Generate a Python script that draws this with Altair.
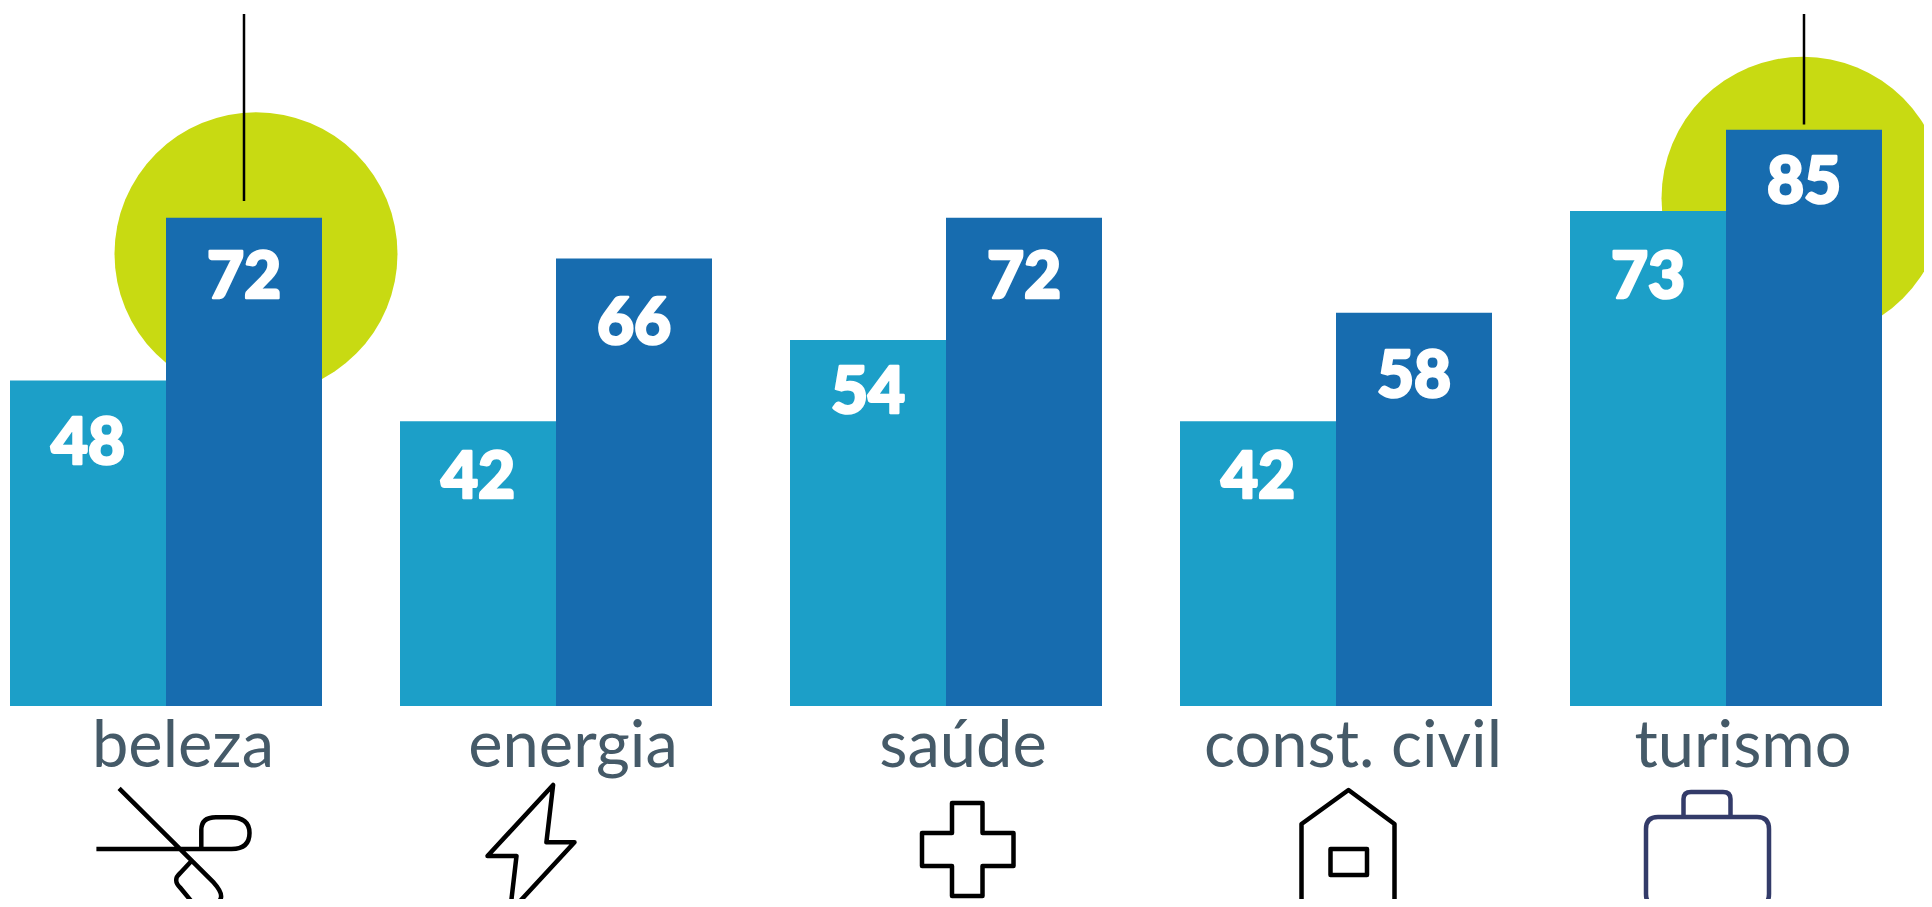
import altair as alt
import pandas as pd

categories = ["beleza", "energia", "saúde", "const. civil", "turismo"]
series_a = [48, 42, 54, 42, 73]
series_b = [72, 66, 72, 58, 85]

LIGHT, DARK, GREEN = "#1c9fc8", "#176caf", "#c8da12"
TEXT = "#455a68"
W, H = 1916, 891
UNIT = 6.78          # pixels per value unit
ZERO = 698           # pixel row of value 0 inside the plot


def val(py):
    """value whose position is page row py"""
    return (ZERO - (py - 8)) / UNIT


rows = []
for c, a, b in zip(categories, series_a, series_b):
    rows.append({"cat": c, "s": "a", "v": a})
    rows.append({"cat": c, "s": "b", "v": b})
df = pd.DataFrame(rows)
# how far the numeral baseline sits below the bar top, in bar order
label_drop = [83, 80, 77, 85, 73, 80, 77, 84, 87, 73]

X = alt.X("cat:N", axis=None,
          scale=alt.Scale(domain=categories, range=[2, 1874], paddingInner=0.2, paddingOuter=0))
XO = alt.XOffset("s:N", scale=alt.Scale(domain=["a", "b"], paddingInner=0, paddingOuter=0))
Y = alt.Y("v:Q", axis=None, scale=alt.Scale(domain=[val(H + 8), val(8)], nice=False, zero=False))

layers = []

# highlight circles
for cat, offs, top in [("beleza", 90, 66.7), ("turismo", 77, 74.9)]:
    layers.append(
        alt.Chart(pd.DataFrame({"cat": [cat], "v": [top]}))
        .mark_point(shape="circle", filled=True, size=80089, color=GREEN, opacity=1, xOffset=offs)
        .encode(x=X, y=Y)
    )

# bars
layers.append(
    alt.Chart(df).mark_bar(cornerRadius=0).encode(
        x=X, xOffset=XO, y=Y, y2=alt.Y2(datum=0),
        color=alt.Color("s:N", legend=None, scale=alt.Scale(domain=["a", "b"], range=[LIGHT, DARK])),
    )
)

# leader lines
leaders = pd.DataFrame({
    "cat": ["beleza", "turismo"], "s": ["b", "b"],
    "v": [val(14), val(14)], "v2": [val(201), val(124.5)],
})
layers.append(
    alt.Chart(leaders).mark_rule(color="black", strokeWidth=2.5).encode(
        x=X, xOffset=XO, y=Y, y2="v2:Q"
    )
)

# value numerals
for i, row in df.iterrows():
    layers.append(
        alt.Chart(df.iloc[[i]])
        .mark_text(font="Lato", fontWeight=900, fontSize=64, color="white", stroke="white",
                   strokeWidth=2.5, strokeJoin="round",
                   baseline="alphabetic", align="center", dy=label_drop[i])
        .encode(x=X, xOffset=XO, y=Y, text="v:Q")
    )

# category names
layers.append(
    alt.Chart(pd.DataFrame({"cat": categories, "v": [val(767)] * 5}))
    .mark_text(font="Lato", fontSize=65, color=TEXT, baseline="alphabetic", align="center", dx=17)
    .encode(x=X, y=Y, text="cat:N")
)

# icon outlines, drawn in pixels around a point (size 4 = scale 1)
icons = {
    "beleza": ("M-46.9,-51.7 L47.8,42.7 Q58,54 54,60 Q50,68 38,68 Q30,68 26,62 L14.5,48 Q6,40 14.3,33 L25.5,21 "
               "M-69.6,9 L65.5,9 Q83.5,9 83.5,-7 Q83.5,-22.7 63.5,-22.7 L50,-22.7 Q35.3,-22.7 35.3,-10 L35.3,7", "black"),
    "energia": ("M-2.9,-55 L-9.6,2.3 L18.5,2.3 L-46,72 L-39.5,16 L-68.5,16 Z", "black"),
    "saúde": ("M6,-37 L36.5,-37 L36.5,-7 L67.5,-7 L67.5,26 L36.5,26 L36.5,56 L6,56 L6,26 L-24,26 L-24,-7 L6,-7 Z", "black"),
    "const. civil": ("M12.5,-50 L58.5,-16 L58.5,67 L-34.5,67 L-34.5,-16 Z M-5.5,9 L31,9 L31,35 L-5.5,35 Z", "black"),
    "turismo": ("M-68,-23 L31,-23 Q43,-23 43,-11 L43,54 Q43,66 31,66 L-68,66 Q-80,66 -80,54 L-80,-11 Q-80,-23 -68,-23 Z "
                "M-42.5,-23 L-42.5,-41 Q-42.5,-48 -35,-48 L-3,-48 Q4.5,-48 4.5,-41 L4.5,-23", "#333b69"),
}
for cat, (path, col) in icons.items():
    layers.append(
        alt.Chart(pd.DataFrame({"cat": [cat], "v": [val(840)]}))
        .mark_point(shape=path, size=4, filled=False, color=col, strokeWidth=4.5, opacity=1, strokeJoin="round")
        .encode(x=X, y=Y)
    )

chart = (
    alt.layer(*layers)
    .properties(width=W, height=H, padding=0, autosize=alt.AutoSizeParams(type="none"), background="white")
    .configure_view(stroke=None)
)
chart.save("out.html", embed_options={"renderer": "svg", "actions": False})
